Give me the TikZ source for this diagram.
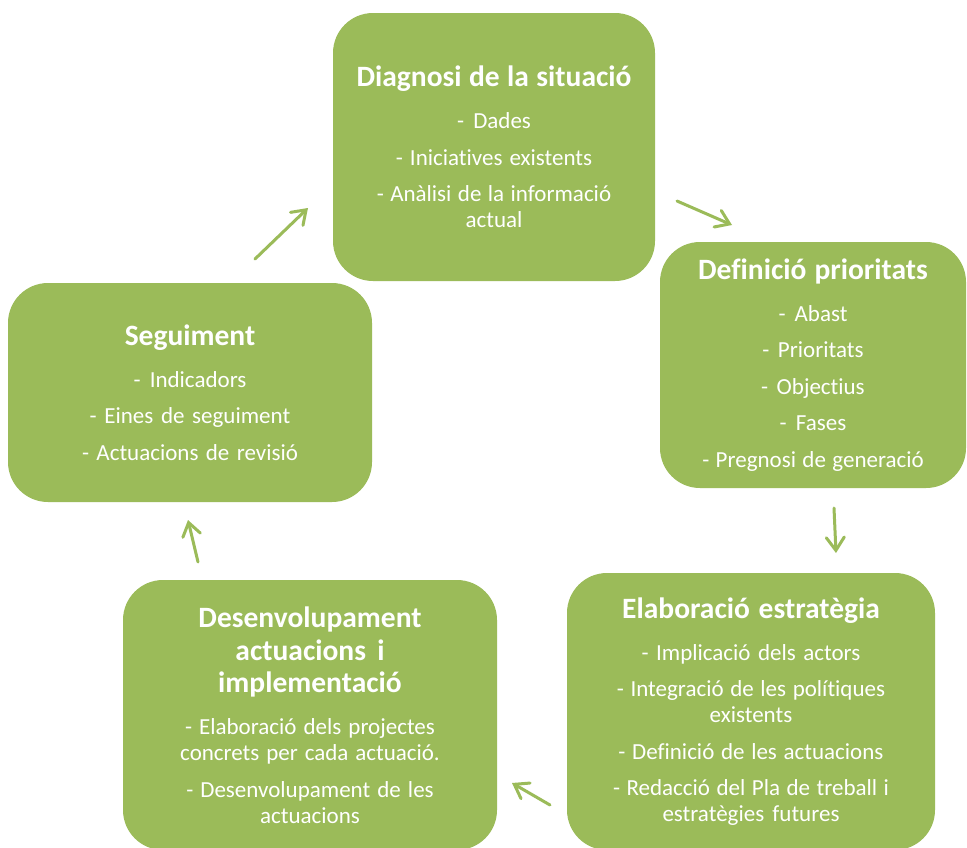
\documentclass[tikz,border=0pt]{standalone}
\usepackage{fontspec}
\setmainfont{Carlito}[Ligatures={NoCommon}]
\usetikzlibrary{arrows.meta}
\definecolor{boxgreen}{HTML}{9BBB59}
\definecolor{arrowgreen}{HTML}{9BBB59}
\newcommand{\ttl}{\fontsize{29.5}{32.5}\selectfont\bfseries\spaceskip=0.22em plus 0.03em minus 0.03em\relax}
\newcommand{\bdy}{\fontsize{23}{26}\selectfont\mdseries\spaceskip=0.22em plus 0.03em minus 0.03em\relax}
\newcommand{\tgap}{\vspace{16pt}}
\newcommand{\igap}{\vspace{10.5pt}}
\tikzset{
  stage/.style={fill=boxgreen, draw=none, rounded corners=40pt, text=white,
    align=center, inner sep=0pt, anchor=center},
  flow/.style={draw=arrowgreen, line width=3pt, line cap=round,
    -{Straight Barb[length=13pt,width=18pt,line cap=round]}}
}
\begin{document}
\begin{tikzpicture}[x=1pt,y=-1pt]
\useasboundingbox (0,0) rectangle (967,847);
\clip (0,0) rectangle (967,847);
\fill[white] (0,0) rectangle (967,847);

\node[stage, minimum width=322pt, minimum height=268pt, text width=316pt] (diag) at (494,147)
{\ttl Diagnosi de la situació\par
 \bdy\tgap - Dades\par
 \igap - Iniciatives existents\par
 \igap - Anàlisi de la informació\\actual\par};

\node[stage, minimum width=306pt, minimum height=246pt, text width=300pt] (defi) at (813,365)
{\ttl Definició prioritats\par
 \bdy\tgap - Abast\par
 \igap - Prioritats\par
 \igap - Objectius\par
 \igap - Fases\par
 \igap - Pregnosi de generació\par};

\node[stage, minimum width=364pt, minimum height=219pt, text width=350pt] (segu) at (190,392.5)
{\ttl Seguiment\par
 \bdy\tgap - Indicadors\par
 \igap - Eines de seguiment\par
 \igap - Actuacions de revisió\par};

\node[stage, minimum width=368pt, minimum height=277pt, text width=360pt] (elab) at (751,711.5)
{\ttl Elaboració estratègia\par
 \bdy\tgap - Implicació dels actors\par
 \igap - Integració de les polítiques\\existents\par
 \igap - Definició de les actuacions\par
 \igap - Redacció del Pla de treball i\\estratègies futures\par};

\node[stage, minimum width=374pt, minimum height=270pt, text width=366pt] (desen) at (310,715)
{\ttl Desenvolupament\\actuacions i\\implementació\par
 \bdy\tgap - Elaboració dels projectes\\concrets per cada actuació.\par
 \igap - Desenvolupament de les\\actuacions\par};

\coordinate (a1s) at (255,259);  \coordinate (a1e) at (308,208);
\coordinate (a2s) at (677,201);  \coordinate (a2e) at (732,225);
\coordinate (a3s) at (834,508);  \coordinate (a3e) at (836,553);
\coordinate (a4s) at (550,805);  \coordinate (a4e) at (512,783);
\coordinate (a5s) at (198,562);  \coordinate (a5e) at (188,520);

\draw[flow] (a1s) -- (a1e);
\draw[flow] (a2s) -- (a2e);
\draw[flow] (a3s) -- (a3e);
\draw[flow] (a4s) -- (a4e);
\draw[flow] (a5s) -- (a5e);
\end{tikzpicture}
\end{document}
